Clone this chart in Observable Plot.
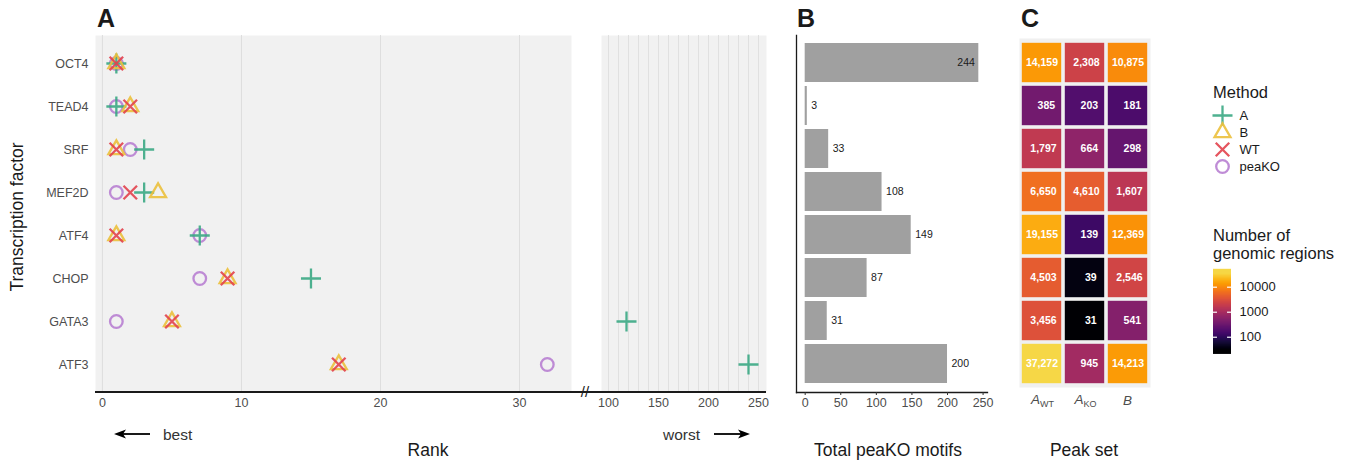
<!DOCTYPE html>
<html><head><meta charset="utf-8">
<script src="https://cdn.jsdelivr.net/npm/d3@7"></script>
<script src="https://cdn.jsdelivr.net/npm/@observablehq/plot@0.6"></script>
<style>
body{margin:0;background:#fff;}
#root{position:relative;width:1351px;height:463px;font-family:"Liberation Sans",Arial,sans-serif;overflow:hidden;background:#fff;}
.lab{position:absolute;white-space:nowrap;color:#1a1a1a;line-height:1;}
</style></head><body><div id="root"></div>
<script>
// ---------- data ----------
const tfs = ["OCT4","TEAD4","SRF","MEF2D","ATF4","CHOP","GATA3","ATF3"];
const methods = ["A","B","WT","peaKO"];
const rankA = [1,1,3,3,7,15,118,240];
const rankB = [1,2,1,4,1,9,5,17];
const rankWT = [1,2,1,2,1,9,5,17];
const rankPeaKO = [1,1,2,1,7,7,1,32];
const methodColors = ["#3ba884","#ebc03c","#e2434e","#b87fd2"];
const methodSymbols = ["plus","triangle2","times","circle"];
const methodR = [6.5,7.6,6.2,6.3];
const leftTicks = [0,10,20,30];
const rightTicks = [100,150,200,250];
const totalMotifs = [244,3,33,108,149,87,31,200];
const motifTicks = [0,50,100,150,200,250];
const peakSets = ["AWT","AKO","B"];
const peakSetMain = ["A","A","B"];
const peakSetSub = ["WT","KO",""];
const regionsAWT = [14159,385,1797,6650,19155,4503,3456,37272];
const regionsAKO = [2308,203,664,4610,139,39,31,945];
const regionsB = [10875,181,298,1607,12369,2546,541,14213];
const colorTicks = [100,1000,10000];

// ---------- helpers ----------
const root = document.getElementById("root");
const FONT = "Liberation Sans, Arial, sans-serif";
function baseStyle(left, top, extra) {
  return Object.assign({position:"absolute", left:left+"px", top:top+"px", background:"transparent",
    maxWidth:"none", overflow:"visible", fontFamily:FONT, fontSize:"12.5px", color:"#4d4d4d"}, extra||{});
}
function label(html, x, y, opts) {
  opts = opts || {};
  const d = document.createElement("div");
  d.className = "lab";
  d.innerHTML = html;
  d.style.left = x + "px";
  d.style.top = y + "px";
  d.style.fontSize = (opts.size || 13) + "px";
  if (opts.bold) d.style.fontWeight = "bold";
  if (opts.italic) d.style.fontStyle = "italic";
  if (opts.color) d.style.color = opts.color;
  const ax = opts.anchor === "left" ? "0" : "-50%";
  d.style.transform = `translate(${ax},-50%)` + (opts.rotate ? ` rotate(${opts.rotate}deg)` : "");
  root.appendChild(d);
  return d;
}

const rankSeries = [rankA, rankB, rankWT, rankPeaKO];
const rankRows = tfs.flatMap((tf,i) => methods.map((m,j) => ({tf, method:m, rank:rankSeries[j][i]})));
const drawOrder = ["peaKO","A","B","WT"];
function dotMarks(rows) {
  return drawOrder.map(m => {
    const j = methods.indexOf(m);
    return Plot.dot(rows.filter(d => d.method === m), {x:"rank", y:"tf", symbol:methodSymbols[j], r:methodR[j],
      stroke:methodColors[j], fill:"none", strokeWidth:2.3, strokeOpacity:0.9});
  });
}

// ---------- panel A (left part) ----------
const leftPlot = Plot.plot({
  width:575, height:463, marginLeft:95, marginRight:4, marginTop:35, marginBottom:71,
  style: baseStyle(0,0),
  x:{domain:[-0.5,33.74], label:null},
  y:{type:"point", domain:tfs, padding:0.6, label:null},
  marks:[
    Plot.frame({fill:"#f1f1f1", stroke:"none"}),
    Plot.gridX(leftTicks, {stroke:"#dedede", strokeOpacity:1, strokeWidth:1}),
    Plot.axisX(leftTicks, {tickSize:0, tickPadding:6, label:null}),
    Plot.axisY({tickSize:0, tickPadding:7, label:null}),
    ...dotMarks(rankRows.filter(d => d.rank <= 34))
  ]
});
root.appendChild(leftPlot);

// ---------- panel A (right part, broken axis) ----------
const rightPlot = Plot.plot({
  width:190, height:463, marginLeft:21, marginRight:4, marginTop:35, marginBottom:71,
  style: baseStyle(580,0),
  x:{domain:[93,258], label:null},
  y:{type:"point", domain:tfs, padding:0.6, axis:null},
  marks:[
    Plot.frame({fill:"#f1f1f1", stroke:"none"}),
    Plot.gridX(d3.range(100,251,10), {stroke:"#e0e0e0", strokeOpacity:1, strokeWidth:1}),
    Plot.axisX(rightTicks, {tickSize:0, tickPadding:6, label:null}),
    ...dotMarks(rankRows.filter(d => d.rank >= 90))
  ]
});
root.appendChild(rightPlot);

// axis line of panel A across the break
const axisLine = document.createElement("div");
Object.assign(axisLine.style, {position:"absolute", left:"95px", top:"391.4px", width:"671px", height:"1.3px", background:"#1a1a1a"});
root.appendChild(axisLine);
label("//", 585, 391, {size:15, color:"#1a1a1a"});

// ---------- panel B ----------
const motifRows = tfs.map((tf,i) => ({tf, total:totalMotifs[i]}));
const bPlot = Plot.plot({
  width:200, height:463, marginLeft:6, marginRight:3, marginTop:35, marginBottom:71,
  style: baseStyle(790,0),
  x:{domain:[-12.2,256.2], label:null},
  y:{type:"band", domain:tfs, paddingInner:0.083, paddingOuter:0.1415, axis:null},
  marks:[
    Plot.barX(motifRows, {x:"total", y:"tf", fill:"#a0a0a0"}),
    Plot.text(motifRows, {filter:d => d.total <= 220, x:"total", y:"tf", text:d => String(d.total),
      textAnchor:"start", dx:4, fill:"#1a1a1a", fontSize:10.5}),
    Plot.text(motifRows, {filter:d => d.total > 220, x:"total", y:"tf", text:d => String(d.total),
      textAnchor:"end", dx:-4, fill:"#1a1a1a", fontSize:10.5}),
    Plot.frame({anchor:"left", stroke:"#1a1a1a", strokeWidth:1.3}),
    Plot.frame({anchor:"bottom", stroke:"#1a1a1a", strokeWidth:1.3}),
    Plot.axisX(motifTicks, {tickSize:3, tickPadding:3, label:null, stroke:"#333"})
  ]
});
root.appendChild(bPlot);

// ---------- panel C (heatmap) ----------
const regionSeries = [regionsAWT, regionsAKO, regionsB];
const regionRows = tfs.flatMap((tf,i) => peakSets.map((s,j) => ({tf, set:s, value:regionSeries[j][i]})));
const allValues = regionRows.map(d => d.value);
const colorDomain = [d3.min(allValues), d3.max(allValues)];
const fmt = d3.format(",");
const cPlot = Plot.plot({
  width:160, height:463, marginLeft:19, marginRight:10, marginTop:38, marginBottom:76,
  style: baseStyle(1000,0),
  x:{type:"band", domain:peakSets, padding:0, axis:null},
  y:{type:"band", domain:tfs, padding:0, axis:null},
  color:{type:"log", domain:colorDomain, interpolate:t => d3.interpolateInferno(0.9*t)},
  marks:[
    Plot.frame({fill:"#f0f0f0", stroke:"none"}),
    Plot.cell(regionRows, {x:"set", y:"tf", fill:"value", inset:1.8}),
    Plot.text(regionRows, {x:"set", y:"tf", text:d => fmt(d.value).padStart(6, "\u00a0"),
      fill:"white", fontWeight:"bold", fontSize:10.5})
  ]
});
root.appendChild(cPlot);

// heatmap column labels (positions from the plot's x scale)
const cx = cPlot.scale("x");
peakSets.forEach((s,j) => {
  const px = 1000 + cx.apply(s) + cx.bandwidth/2;
  const sub = peakSetSub[j] ? `<sub style="font-size:9px;font-style:normal;vertical-align:-3px">${peakSetSub[j]}</sub>` : "";
  label(`<i>${peakSetMain[j]}</i>${sub}`, px + (peakSetSub[j] ? 1 : 0), 401, {size:13.5, color:"#4d4d4d"});
});

// ---------- legends ----------
label("Method", 1213, 92, {size:16.5, anchor:"left"});
const legendPlot = Plot.plot({
  width:146, height:70, marginLeft:17, marginRight:0, marginTop:10, marginBottom:9,
  style: baseStyle(1205,105,{color:"#1a1a1a", fontSize:"13px"}),
  y:{type:"point", domain:methods, padding:0, axis:null},
  marks:[
    ...methods.map((m,j) => Plot.dot([m], {y:d => d, frameAnchor:"left", symbol:methodSymbols[j], r:methodR[j],
      stroke:methodColors[j], fill:"none", strokeWidth:2.3, strokeOpacity:0.9})),
    Plot.text(methods, {y:d => d, text:d => d, frameAnchor:"left", dx:17, textAnchor:"start", fill:"#1a1a1a"})
  ]
});
root.appendChild(legendPlot);

label("Number of", 1213, 235, {size:16.5, anchor:"left"});
label("genomic regions", 1213, 253, {size:16.5, anchor:"left"});
const cs = cPlot.scale("color");
const barLo = 23, barHi = 51000;
const gradSteps = d3.range(0, 1.0001, 1/160);
const barPlot = Plot.plot({
  width:100, height:100, marginLeft:8, marginRight:74, marginTop:9, marginBottom:7.3,
  style: baseStyle(1205,260,{color:"#1a1a1a", fontSize:"13px"}),
  x:{domain:[0,1], axis:null},
  y:{type:"log", domain:[barLo,barHi], label:null},
  color:{type:"identity"},
  marks:[
    Plot.ruleY(gradSteps, {y:f => barLo * Math.pow(barHi/barLo, f), x1:0, x2:1, strokeWidth:1.4,
      stroke:f => cs.apply(Math.min(colorDomain[1], Math.max(colorDomain[0], barLo * Math.pow(barHi/barLo, f))))}),
    Plot.ruleY(colorTicks, {x1:0, x2:0.22, stroke:"white", strokeWidth:1.2}),
    Plot.ruleY(colorTicks, {x1:0.78, x2:1, stroke:"white", strokeWidth:1.2}),
    Plot.axisY(colorTicks, {anchor:"right", tickSize:0, tickPadding:8, tickFormat:d3.format("d"), label:null})
  ]
});
root.appendChild(barPlot);

// ---------- titles ----------
label("A", 97, 18, {size:25, bold:true, anchor:"left"});
label("B", 797, 18, {size:25, bold:true, anchor:"left"});
label("C", 1021, 18, {size:25, bold:true, anchor:"left"});
label("Rank", 428, 451, {size:17.5});
label("Total peaKO motifs", 888, 451, {size:17.5});
label("Peak set", 1084, 451, {size:17.5});
label("Transcription factor", 18, 217, {size:17.5, rotate:-90});
label("best", 163, 435, {size:15.5, anchor:"left", color:"#333"});
label("worst", 663, 435, {size:15.5, anchor:"left", color:"#333"});

// arrows
function arrow(x1, x2, y) {
  const ns = "http://www.w3.org/2000/svg";
  const s = document.createElementNS(ns, "svg");
  s.setAttribute("width", 1351); s.setAttribute("height", 463);
  Object.assign(s.style, {position:"absolute", left:"0", top:"0", pointerEvents:"none"});
  const dir = Math.sign(x2 - x1);
  const line = document.createElementNS(ns, "line");
  line.setAttribute("x1", x1); line.setAttribute("x2", x2 - dir*8); line.setAttribute("y1", y); line.setAttribute("y2", y);
  line.setAttribute("stroke", "#000"); line.setAttribute("stroke-width", 1.8);
  const head = document.createElementNS(ns, "polygon");
  head.setAttribute("points", `${x2},${y} ${x2 - dir*12},${y-4.5} ${x2 - dir*9},${y} ${x2 - dir*12},${y+4.5}`);
  head.setAttribute("fill", "#000");
  s.appendChild(line); s.appendChild(head);
  root.appendChild(s);
}
arrow(150, 114, 434);
arrow(714, 750, 434);
</script></body></html>
